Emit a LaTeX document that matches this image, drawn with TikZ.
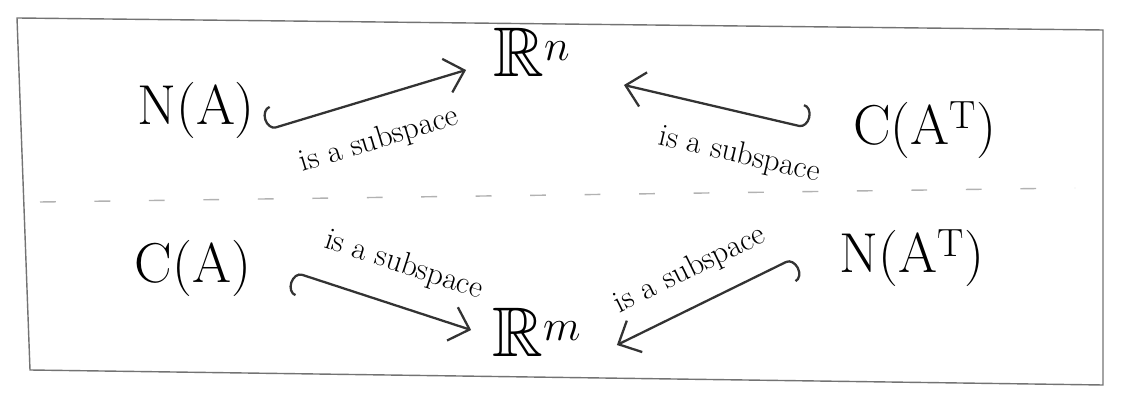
\documentclass[tikz,border=0pt]{standalone}
\usepackage{amssymb}
\usepackage{fontspec}
\usetikzlibrary{arrows.meta,positioning,calc}
\tikzset{
 space/.style={font=\fontsize{32}{38}\selectfont,inner sep=0pt},
 big/.style={space,font=\fontsize{40}{46}\selectfont},
 sub/.style={line width=1.3pt,draw=black!80,-{Straight Barb[length=3.6mm,width=7mm]}},
 hookl/.style={sub,{Hooks[left,length=1.8mm,width=9mm]}-{Straight Barb[length=3.6mm,width=7mm]}},
 hookr/.style={sub,{Hooks[right,length=1.8mm,width=9mm]}-{Straight Barb[length=3.6mm,width=7mm]}},
 lbl/.style={font=\fontsize{18}{22}\selectfont,sloped,midway}
}
\begin{document}
\begin{tikzpicture}[x=0.02cm,y=-0.02cm]
\useasboundingbox (0,0) rectangle (1124,404);
% frame and split
\draw[black!55,line width=.8pt] (17,18)--(1103,30)--(1103,385)--(30,370)--cycle;
\draw[black!30,line width=.8pt,dash pattern=on 9pt off 22pt] (40,202)--(1075,188);
% spaces
\node[space] (NA) at (196,110) {N(A)};
\node[big] (Rn) at (532,52) {$\mathbb{R}^n$};
\node[space] (CAT) at (925,130) {C(A\textsuperscript{T})};
\node[space] (CA) at (193,268) {C(A)};
\node[big] (Rm) at (537,332) {$\mathbb{R}^m$};
\node[space] (NAT) at (912,258) {N(A\textsuperscript{T})};
% inclusions
\draw[hookr] ($(NA.east)+(12,20)$) -- ($(Rn.west)+(-27,18)$)
 node[lbl,below=12pt] {is a subspace};
\draw[hookl] ($(CAT.west)+(-45,-2)$) -- ($(Rn.east)+(53,33)$)
 node[lbl,pos=.32,below=12pt] {is a subspace};
\draw[hookl] ($(CA.east)+(42,4)$) -- ($(Rm.west)+(-21,-2)$)
 node[lbl,pos=.55,above=11pt] {is a subspace};
\draw[hookr] ($(NAT.west)+(-45,0)$) -- ($(Rm.east)+(35,13)$)
 node[lbl,pos=.5,above=8pt] {is a subspace};
\end{tikzpicture}
\end{document}
